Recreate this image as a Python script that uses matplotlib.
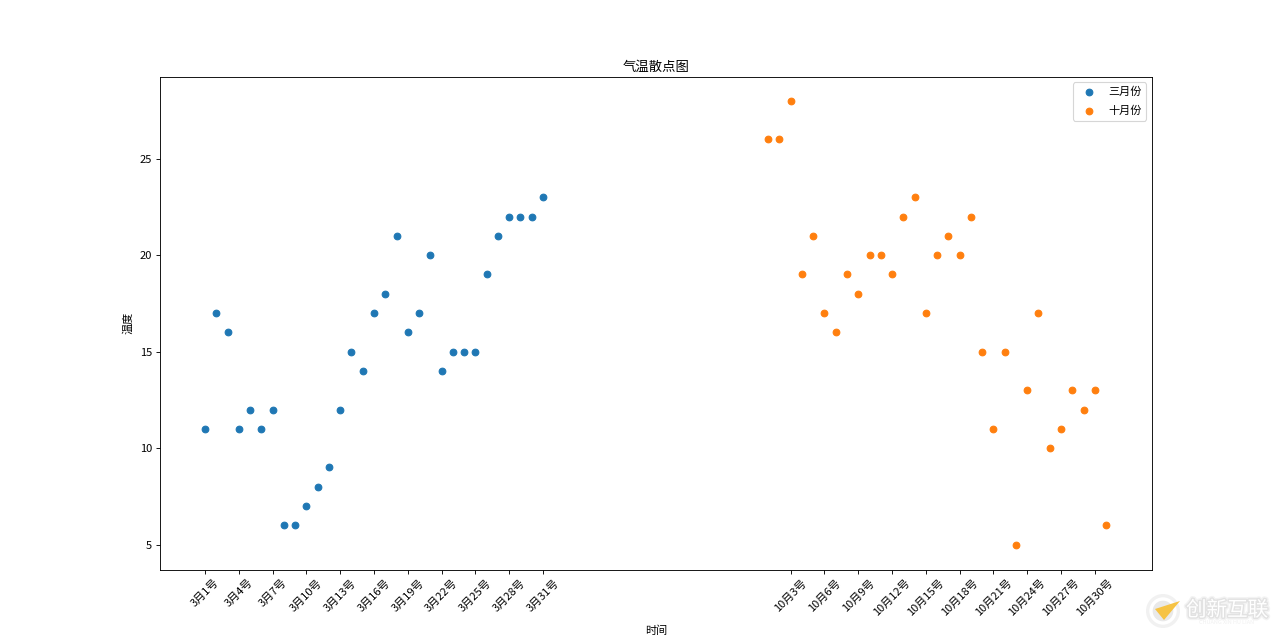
import matplotlib
matplotlib.use("Agg")
import matplotlib.pyplot as plt
import matplotlib.patheffects as pe
from matplotlib.patches import Circle, Polygon
from matplotlib.transforms import IdentityTransform

plt.rcParams['font.family'] = ['Noto Sans CJK SC', 'DejaVu Sans']

y_3 = [11, 17, 16, 11, 12, 11, 12, 6, 6, 7, 8, 9, 12, 15, 14, 17, 18, 21, 16, 17, 20, 14, 15, 15, 15, 19, 21, 22, 22, 22, 23]
y_10 = [26, 26, 28, 19, 21, 17, 16, 19, 18, 20, 20, 19, 22, 23, 17, 20, 21, 20, 22, 15, 11, 15, 5, 13, 17, 10, 11, 13, 12, 13, 6]
x_3 = list(range(31))
x_10 = list(range(50, 81))

ticks = x_3[::3] + x_10[2::3]
labels = ["3月{}号".format(d) for d in range(1, 32, 3)] + ["10月{}号".format(d) for d in range(3, 31, 3)]

fig = plt.figure(figsize=(16, 8), dpi=80)
plt.scatter(x_3, y_3, label="三月份")
plt.scatter(x_10, y_10, label="十月份")
plt.xticks(ticks, labels, rotation=45)
plt.xlim(-4, 84.08)
plt.ylim(3.7, 29.25)
plt.xlabel("时间", labelpad=7)
plt.ylabel("温度", labelpad=6)
plt.title("气温散点图", pad=5)
plt.legend(loc="upper right", labelspacing=0.77)

# watermark in the bottom right corner, positions in pixels
px = IdentityTransform()
halo = [pe.withStroke(linewidth=5, foreground="#f3f3f3"), pe.withStroke(linewidth=2.5, foreground="#e2e2e2")]
fig.text(1227, 640 - 610, "创新互联", transform=px, color="white", fontsize=18.5, ha="center", va="center",
         path_effects=halo)
fig.text(1227, 640 - 623, "CHUANG XIN HU LIAN", transform=px, color="#f0f0f0", fontsize=5, ha="center", va="center")
fig.add_artist(Circle((1163, 640 - 611), 17, transform=px, facecolor="#f1f1f1", edgecolor="none"))
fig.add_artist(Circle((1163, 640 - 611), 12, transform=px, facecolor="#e9e9e9", edgecolor="white", linewidth=3))
fig.add_artist(Polygon([(1155, 640 - 609), (1180, 640 - 601), (1164, 640 - 620)], transform=px,
                       facecolor="#f6c344", edgecolor="none"))
plt.savefig("out.png")
